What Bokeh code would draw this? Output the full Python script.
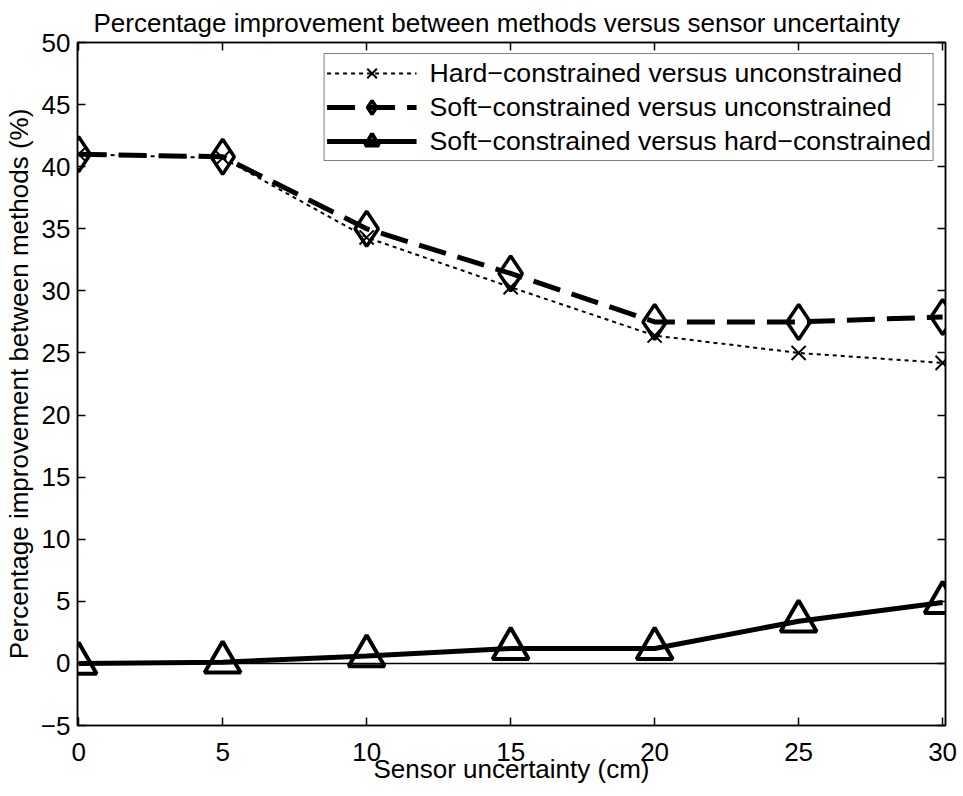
from bokeh.plotting import figure
from bokeh.models import Range1d, FixedTicker, LinearAxis, Span, Legend, LegendItem, CustomJSTickFormatter
from bokeh.embed import file_html
from bokeh.resources import INLINE

# ---- data ----
uncertainty = [0, 5, 10, 15, 20, 25, 30]
hard_vs_unc = [41.0, 40.7, 34.3, 30.3, 26.4, 25.0, 24.2]
soft_vs_unc = [41.0, 40.8, 35.0, 31.4, 27.5, 27.5, 27.9]
soft_vs_hard = [0.0, 0.1, 0.6, 1.2, 1.2, 3.4, 4.9]
x_ticks = [0, 5, 10, 15, 20, 25, 30]
y_ticks = [-5, 0, 5, 10, 15, 20, 25, 30, 35, 40, 45, 50]
labels = ["Hard\u2212constrained versus unconstrained",
          "Soft\u2212constrained versus unconstrained",
          "Soft\u2212constrained versus hard\u2212constrained"]
title_text = "Percentage improvement between methods versus sensor uncertainty"
x_label = "Sensor uncertainty (cm)"
y_label = "Percentage improvement between methods (%)"

FONT = "Liberation Sans"
FS = "26px"

p = figure(width=963, height=796, output_backend="svg", toolbar_location=None,
           x_range=Range1d(-0.04, 30.1), y_range=Range1d(-5, 50),
           min_border_left=77, min_border_right=18, min_border_top=42, min_border_bottom=71)
p.background_fill_color = "white"
p.border_fill_color = "white"
p.outline_line_color = "black"
p.outline_line_width = 1.5
p.grid.visible = False

p.title.text = title_text
p.title.align = "left"
p.title.offset = 16
p.title.text_font = FONT
p.title.text_font_size = FS
p.title.text_font_style = "normal"
p.title.text_color = "black"
p.title.standoff = 9

for ax in (p.xaxis[0], p.yaxis[0]):
    ax.major_label_text_font = FONT
    ax.major_label_text_font_size = FS
    ax.major_label_text_color = "black"
    ax.axis_label_text_font = FONT
    ax.axis_label_text_font_size = FS
    ax.axis_label_text_font_style = "normal"
    ax.axis_label_text_color = "black"
    ax.major_tick_in = 8
    ax.major_tick_out = 0
    ax.minor_tick_in = 0
    ax.minor_tick_out = 0
    ax.major_tick_line_width = 1.5
    ax.axis_line_width = 1.5

p.xaxis.ticker = FixedTicker(ticks=x_ticks)
p.yaxis.ticker = FixedTicker(ticks=y_ticks)
p.yaxis.major_label_overrides = {t: str(t).replace("-", "\u2212") for t in y_ticks}
p.xaxis.axis_label = x_label
p.yaxis.axis_label = y_label
p.xaxis.major_label_standoff = 17
p.xaxis.axis_label_standoff = -10
p.yaxis.major_label_standoff = 7
p.yaxis.axis_label_standoff = 4

blank = CustomJSTickFormatter(code="return ''")
top = LinearAxis(ticker=FixedTicker(ticks=x_ticks), formatter=blank)
right = LinearAxis(ticker=FixedTicker(ticks=y_ticks), formatter=blank)
for ax in (top, right):
    ax.major_tick_in = 8
    ax.major_tick_out = 0
    ax.minor_tick_in = 0
    ax.minor_tick_out = 0
    ax.major_tick_line_width = 1.5
    ax.axis_line_width = 1.5
    ax.major_label_standoff = 0
    ax.major_label_text_font_size = "1px"
p.add_layout(top, "above")
p.add_layout(right, "right")

p.add_layout(Span(location=0, dimension="width", line_color="black", line_width=1.5))

l1 = p.line(uncertainty, hard_vs_unc, line_color="black", line_width=2, line_dash="4 4")
m1 = p.scatter(uncertainty, hard_vs_unc, marker="x", size=20, line_color="black", line_width=2)
l2 = p.line(uncertainty, soft_vs_unc, line_color="black", line_width=5, line_dash="28 12")
m2 = p.scatter(uncertainty, soft_vs_unc, marker="diamond", size=35, line_color="black",
               line_width=3.5, fill_color=None)
l3 = p.line(uncertainty, soft_vs_hard, line_color="black", line_width=5)
m3 = p.scatter(uncertainty, soft_vs_hard, marker="triangle", size=36, line_color="black",
               line_width=4, fill_color=None)

legend = Legend(items=[LegendItem(label=labels[0], renderers=[l1, m1]),
                       LegendItem(label=labels[1], renderers=[l2, m2]),
                       LegendItem(label=labels[2], renderers=[l3, m3])],
                location="top_right", margin=11, padding=2, spacing=0,
                glyph_width=90, glyph_height=34, label_standoff=13,
                label_text_font=FONT, label_text_font_size="26.7px", label_text_color="black",
                border_line_color="black", border_line_width=1.5,
                background_fill_color="white", background_fill_alpha=1.0)
p.add_layout(legend)

open("out.html", "w").write(file_html(p, INLINE))
